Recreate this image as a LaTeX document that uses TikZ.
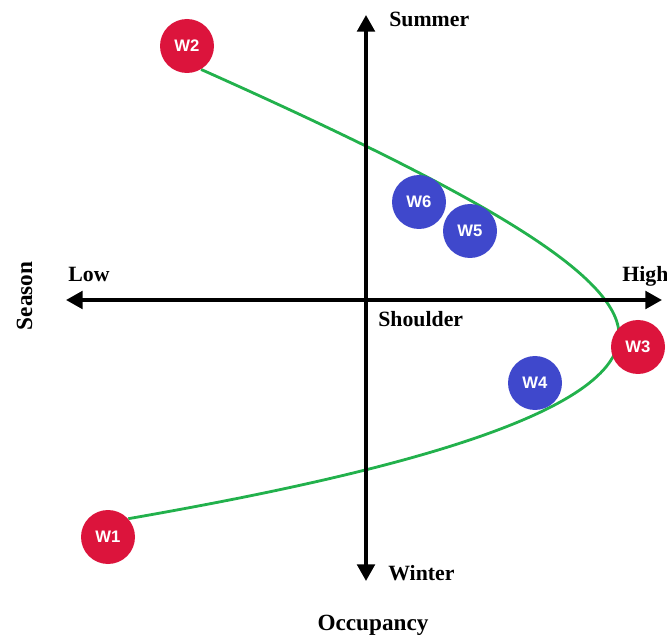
\documentclass[tikz,border=0pt]{standalone}
\usepackage{fontspec}
\setmainfont{Liberation Serif}
\newfontfamily\wfont{Liberation Sans}
\usetikzlibrary{arrows.meta,backgrounds}
\definecolor{wred}{RGB}{220,20,60}
\definecolor{wblue}{RGB}{63,72,204}
\definecolor{wgreen}{RGB}{34,177,76}
\tikzset{
  wk/.style={circle, minimum size=54*0.02cm, inner sep=0pt, text=white,
    font=\wfont\bfseries\fontsize{9.5}{11}\selectfont},
  wkred/.style={wk, fill=wred},
  wkblue/.style={wk, fill=wblue},
  axisline/.style={line width=2.1pt, -{Triangle[length=9.5pt,width=10pt]}},
  lbl/.style={inner sep=0pt, font=\bfseries\fontsize{12.4}{14}\selectfont},
  ttl/.style={inner sep=0pt, font=\bfseries\fontsize{13.2}{15}\selectfont},
  curve/.style={draw=wgreen, line width=1.6pt}
}
\begin{document}
\begin{tikzpicture}[x=0.02cm, y=-0.02cm]
\useasboundingbox (0,0) rectangle (667,635);
% axis end points
\coordinate (top) at (366,15);
\coordinate (bot) at (366,581);
\coordinate (lft) at (66,300);
\coordinate (rgt) at (662,300);
\coordinate (vc) at (366,300);
\draw[axisline] (vc) -- (top);
\draw[axisline] (vc) -- (bot);
\draw[axisline] (vc) -- (lft);
\draw[axisline] (vc) -- (rgt);
% labels
\node[lbl, anchor=base west] (summer) at (389,27) {Summer};
\node[lbl, anchor=base west] (winter) at (388,580) {Winter};
\node[lbl, anchor=base west] (low) at (68,282) {Low};
\node[lbl, anchor=base west] (high) at (622,282) {High};
\node[lbl, anchor=base west] (shoulder) at (378,327) {Shoulder};
\node[ttl, anchor=base] (occ) at (373,630) {Occupancy};
\node[ttl, anchor=base, rotate=90] (season) at (32,296) {Season};
% weeks
\node[wkred] (W2) at (187,46) {W2};
\node[wkred] (W3) at (638,347) {W3};
\node[wkred] (W1) at (108,537) {W1};
\node[wkblue] (W6) at (419,202) {W6};
\node[wkblue] (W5) at (470,231) {W5};
\node[wkblue] (W4) at (535,383) {W4};
% curve
\coordinate (tip) at (619,335);
\begin{scope}[on background layer]
\draw[curve] (W2.-59) .. controls (480,194) and (619,275) .. (tip)
  .. controls (619,420) and (350,480) .. (W1.42);
\end{scope}
\end{tikzpicture}
\end{document}
